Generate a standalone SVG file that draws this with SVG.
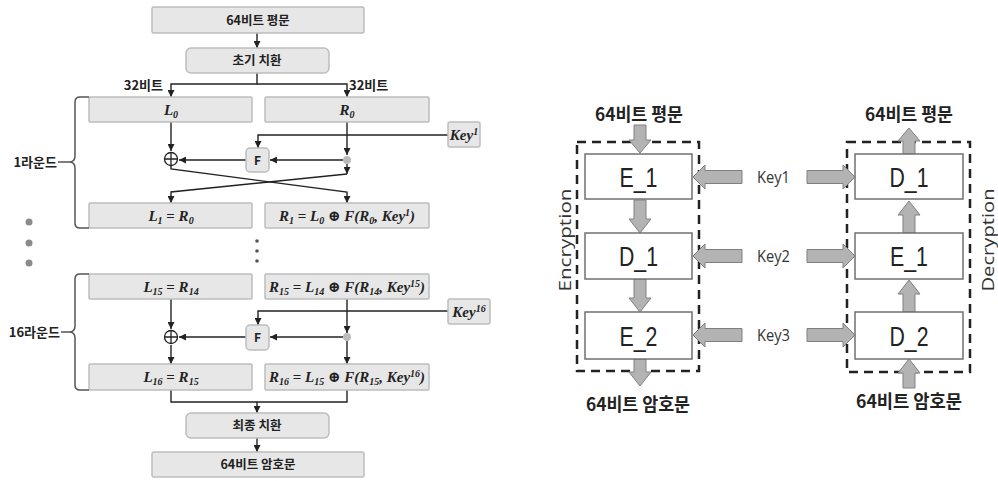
<svg xmlns="http://www.w3.org/2000/svg" width="998" height="481" viewBox="0 0 998 481">
<defs>
<style>
.bx{fill:#e7e7e7;stroke:#bdbdbd;stroke-width:1.5}
.kr{font-family:"Noto Sans CJK KR","Noto Sans",sans-serif;font-weight:bold;fill:#222}
.m{font-family:"Liberation Serif","DejaVu Serif",serif;font-weight:bold;font-style:italic;font-size:15px;fill:#222}
.up{font-style:normal}
.sb{font-size:10px}
.ln{fill:none;stroke:#222;stroke-width:1.4}
.br{fill:none;stroke:#555;stroke-width:1.5}
.wb{fill:#fff;stroke:#707070;stroke-width:1.5}
.ds{fill:none;stroke:#222;stroke-width:2.5;stroke-dasharray:9 6}
.ga{fill:#b3b3b3;stroke:#808080;stroke-width:1}
.big{font-family:"Liberation Sans",Arial,sans-serif;font-size:28px;fill:#222}
.ky{font-family:"Open Sans","DejaVu Sans",sans-serif;font-size:17px;fill:#333}
.t2{font-family:"Noto Sans CJK KR","Noto Sans",sans-serif;font-weight:bold;font-size:18px;fill:#222}
</style>
<marker id="ah" viewBox="0 0 8 8" refX="8" refY="4" markerWidth="7" markerHeight="7" markerUnits="userSpaceOnUse" orient="auto"><path d="M0,0 L8,4 L0,8 z" fill="#222"/></marker>
</defs>
<rect width="998" height="481" fill="#fff"/>

<!-- LEFT: DES structure -->
<g id="connectors-left">
<path class="ln" d="M257,33 V48" marker-end="url(#ah)"/>
<path class="ln" d="M257,73 V84 H171 V97" marker-end="url(#ah)"/>
<path class="ln" d="M257,84 H347 V97" marker-end="url(#ah)"/>
<!-- round 1 -->
<path class="ln" d="M171,122 V151" marker-end="url(#ah)"/>
<path class="ln" d="M347,122 V155" marker-end="url(#ah)"/>
<path class="ln" d="M343,160 H270" marker-end="url(#ah)"/>
<path class="ln" d="M246,160 H179" marker-end="url(#ah)"/>
<path class="ln" d="M448,135 H258 V148" marker-end="url(#ah)"/>
<path class="ln" d="M347,164 V174" marker-end="url(#ah)"/>
<path class="ln" d="M347,174 L171,192 V203" marker-end="url(#ah)"/>
<path class="ln" d="M171,166 V169 L347,192 V203" marker-end="url(#ah)"/>
<!-- round 16 -->
<path class="ln" d="M171,299 V329" marker-end="url(#ah)"/>
<path class="ln" d="M171,345 V364" marker-end="url(#ah)"/>
<path class="ln" d="M347,299 V333" marker-end="url(#ah)"/>
<path class="ln" d="M347,341 V364" marker-end="url(#ah)"/>
<path class="ln" d="M343,337 H270" marker-end="url(#ah)"/>
<path class="ln" d="M246,337 H179" marker-end="url(#ah)"/>
<path class="ln" d="M448,311 H258 V325" marker-end="url(#ah)"/>
<!-- final -->
<path class="ln" d="M171,390 V402 H347 V390"/>
<path class="ln" d="M257,402 V413" marker-end="url(#ah)"/>
<path class="ln" d="M257,438 V452" marker-end="url(#ah)"/>
</g>

<g id="n-plain"><rect class="bx" x="152" y="7" width="212" height="26" rx="2"/><text class="kr" x="258" y="25" font-size="12.5" text-anchor="middle">64비트 평문</text></g>
<g id="n-ip"><rect class="bx" x="186" y="48" width="143" height="25" rx="5"/><text class="kr" x="257" y="65" font-size="12.5" text-anchor="middle">초기 치환</text></g>
<g id="lbl-32"><text class="kr" x="163" y="90" font-size="13" text-anchor="end">32비트</text><text class="kr" x="349" y="90" font-size="13">32비트</text></g>

<g id="n-L0"><rect class="bx" x="89" y="97" width="163" height="25" rx="1"/><text class="m" x="171" y="115" text-anchor="middle">L<tspan class="sb" dy="3">0</tspan></text></g>
<g id="n-R0"><rect class="bx" x="265" y="97" width="164" height="25" rx="1"/><text class="m" x="347" y="115" text-anchor="middle">R<tspan class="sb" dy="3">0</tspan></text></g>
<g id="n-key1"><rect class="bx" x="448" y="122" width="32" height="25" rx="2"/><text class="m" x="464" y="140" font-size="14" text-anchor="middle">Key<tspan class="sb" dy="-5">1</tspan></text></g>
<g id="n-F1"><rect class="bx" x="246" y="148" width="23" height="24" rx="4"/><text class="kr" x="257.5" y="165" font-size="12" text-anchor="middle">F</text></g>
<g id="n-xor1"><circle cx="171" cy="159" r="6.5" fill="#fff" stroke="#222" stroke-width="1.3"/><path d="M164.5,159 H177.5 M171,152.5 V165.5" stroke="#222" stroke-width="1.3"/></g>
<g id="n-split1"><circle cx="347" cy="160" r="4" fill="#bbb"/></g>
<g id="n-L1"><rect class="bx" x="89" y="203" width="163" height="25" rx="1"/><text class="m" x="171" y="221" text-anchor="middle">L<tspan class="sb" dy="3">1</tspan><tspan class="up" dy="-3"> = </tspan>R<tspan class="sb" dy="3">0</tspan></text></g>
<g id="n-R1"><rect class="bx" x="265" y="203" width="164" height="25" rx="1"/><text class="m" x="347" y="221" text-anchor="middle">R<tspan class="sb" dy="3">1</tspan><tspan class="up" dy="-3"> = </tspan>L<tspan class="sb" dy="3">0</tspan><tspan class="up" dy="-3"> ⊕ </tspan>F(R<tspan class="sb" dy="3">0</tspan><tspan dy="-3">, Key</tspan><tspan class="sb" dy="-5">1</tspan><tspan dy="5">)</tspan></text></g>
<g id="brace1"><path class="br" d="M89,97 H80 Q75,97 75,102 V156 Q75,162 69,162 Q75,162 75,168 V223 Q75,228 80,228 H89 M58,162 H69"/><text class="kr" x="57" y="167" font-size="13" text-anchor="end">1라운드</text></g>

<g id="dots"><circle cx="29" cy="222" r="3.5" fill="#8a8a8a"/><circle cx="29" cy="243" r="3.5" fill="#8a8a8a"/><circle cx="29" cy="263" r="3.5" fill="#8a8a8a"/><circle cx="257" cy="241" r="1.8" fill="#555"/><circle cx="257" cy="251" r="1.8" fill="#555"/><circle cx="257" cy="261" r="1.8" fill="#555"/></g>

<g id="n-L15"><rect class="bx" x="89" y="274" width="163" height="25" rx="1"/><text class="m" x="171" y="292" text-anchor="middle">L<tspan class="sb" dy="3">15</tspan><tspan class="up" dy="-3"> = </tspan>R<tspan class="sb" dy="3">14</tspan></text></g>
<g id="n-R15"><rect class="bx" x="265" y="274" width="164" height="25" rx="1"/><text class="m" x="347" y="292" font-size="14" text-anchor="middle">R<tspan class="sb" dy="3">15</tspan><tspan class="up" dy="-3"> = </tspan>L<tspan class="sb" dy="3">14</tspan><tspan class="up" dy="-3"> ⊕ </tspan>F(R<tspan class="sb" dy="3">14</tspan><tspan dy="-3">, Key</tspan><tspan class="sb" dy="-5">15</tspan><tspan dy="5">)</tspan></text></g>
<g id="n-key16"><rect class="bx" x="448" y="299" width="42" height="25" rx="2"/><text class="m" x="469" y="317" font-size="14" text-anchor="middle">Key<tspan class="sb" dy="-5">16</tspan></text></g>
<g id="n-F16"><rect class="bx" x="246" y="325" width="23" height="25" rx="4"/><text class="kr" x="257.5" y="342" font-size="12" text-anchor="middle">F</text></g>
<g id="n-xor16"><circle cx="171" cy="337" r="6.5" fill="#fff" stroke="#222" stroke-width="1.3"/><path d="M164.5,337 H177.5 M171,330.5 V343.5" stroke="#222" stroke-width="1.3"/></g>
<g id="n-split16"><circle cx="347" cy="337" r="4" fill="#bbb"/></g>
<g id="n-L16"><rect class="bx" x="89" y="364" width="163" height="26" rx="1"/><text class="m" x="171" y="382" text-anchor="middle">L<tspan class="sb" dy="3">16</tspan><tspan class="up" dy="-3"> = </tspan>R<tspan class="sb" dy="3">15</tspan></text></g>
<g id="n-R16"><rect class="bx" x="265" y="364" width="164" height="26" rx="1"/><text class="m" x="347" y="382" font-size="14" text-anchor="middle">R<tspan class="sb" dy="3">16</tspan><tspan class="up" dy="-3"> = </tspan>L<tspan class="sb" dy="3">15</tspan><tspan class="up" dy="-3"> ⊕ </tspan>F(R<tspan class="sb" dy="3">15</tspan><tspan dy="-3">, Key</tspan><tspan class="sb" dy="-5">16</tspan><tspan dy="5">)</tspan></text></g>
<g id="brace16"><path class="br" d="M89,274 H80 Q75,274 75,279 V326 Q75,332 69,332 Q75,332 75,338 V385 Q75,390 80,390 H89 M61,332 H69"/><text class="kr" x="60" y="337" font-size="13" text-anchor="end">16라운드</text></g>

<g id="n-fp"><rect class="bx" x="186" y="413" width="143" height="25" rx="5"/><text class="kr" x="257" y="430" font-size="12.5" text-anchor="middle">최종 치환</text></g>
<g id="n-cipher"><rect class="bx" x="152" y="452" width="212" height="25" rx="2"/><text class="kr" x="258" y="469" font-size="12.5" text-anchor="middle">64비트 암호문</text></g>

<!-- RIGHT: 3DES -->
<g id="enc-group"><rect class="ds" x="577" y="142" width="122" height="229"/><text class="ky" transform="translate(571,240) rotate(-90)" text-anchor="middle" textLength="103" lengthAdjust="spacingAndGlyphs">Encryption</text></g>
<g id="dec-group"><rect class="ds" x="847" y="142" width="123" height="230"/><text class="ky" transform="translate(994,240) rotate(-90)" text-anchor="middle" textLength="103" lengthAdjust="spacingAndGlyphs">Decryption</text></g>

<g id="connectors-right">
<polygon class="ga" points="634,125 646,125 646,140 651,140 640,153 629,140 634,140"/>
<polygon class="ga" points="634,200 646,200 646,219 651,219 640,233 629,219 634,219"/>
<polygon class="ga" points="634,279 646,279 646,298 651,298 640,312 629,298 634,298"/>
<polygon class="ga" points="634,359 646,359 646,372 651,372 640,386 629,372 634,372"/>
<polygon class="ga" points="903,154 915,154 915,141 920,141 909,128 898,141 903,141"/>
<polygon class="ga" points="903,233 915,233 915,215 920,215 909,201 898,215 903,215"/>
<polygon class="ga" points="903,312 915,312 915,294 920,294 909,280 898,294 903,294"/>
<polygon class="ga" points="903,388 915,388 915,373 920,373 909,359 898,373 903,373"/>
<polygon class="ga" points="742,170.5 742,183.5 705,183.5 705,189 693,177 705,165 705,170.5"/>
<polygon class="ga" points="742,249.5 742,262.5 705,262.5 705,268 693,256 705,244 705,249.5"/>
<polygon class="ga" points="742,328.5 742,341.5 705,341.5 705,347 693,335 705,323 705,328.5"/>
<polygon class="ga" points="807,170.5 807,183.5 843,183.5 843,189 855,177 843,165 843,170.5"/>
<polygon class="ga" points="807,249.5 807,262.5 843,262.5 843,268 855,256 843,244 843,249.5"/>
<polygon class="ga" points="807,328.5 807,341.5 843,341.5 843,347 855,335 843,323 843,328.5"/>
</g>

<g id="t-plain-l"><text class="t2" x="639" y="121" text-anchor="middle" textLength="88" lengthAdjust="spacingAndGlyphs">64비트 평문</text></g>
<g id="t-cipher-l"><text class="t2" x="638" y="411" text-anchor="middle" textLength="104" lengthAdjust="spacingAndGlyphs">64비트 암호문</text></g>
<g id="t-plain-r"><text class="t2" x="909" y="121" text-anchor="middle" textLength="88" lengthAdjust="spacingAndGlyphs">64비트 평문</text></g>
<g id="t-cipher-r"><text class="t2" x="909" y="408" text-anchor="middle" textLength="106" lengthAdjust="spacingAndGlyphs">64비트 암호문</text></g>

<g id="n-E1"><rect class="wb" x="585" y="154" width="107" height="45"/><text class="big" x="638.5" y="187" text-anchor="middle" textLength="38" lengthAdjust="spacingAndGlyphs">E_1</text></g>
<g id="n-D1"><rect class="wb" x="585" y="233" width="107" height="46"/><text class="big" x="638.5" y="266" text-anchor="middle" textLength="39" lengthAdjust="spacingAndGlyphs">D_1</text></g>
<g id="n-E2"><rect class="wb" x="585" y="312" width="107" height="47"/><text class="big" x="638.5" y="346" text-anchor="middle" textLength="38" lengthAdjust="spacingAndGlyphs">E_2</text></g>
<g id="n-D1r"><rect class="wb" x="855" y="154" width="108" height="45"/><text class="big" x="909" y="187" text-anchor="middle" textLength="39" lengthAdjust="spacingAndGlyphs">D_1</text></g>
<g id="n-E1r"><rect class="wb" x="855" y="233" width="108" height="46"/><text class="big" x="909" y="266" text-anchor="middle" textLength="38" lengthAdjust="spacingAndGlyphs">E_1</text></g>
<g id="n-D2r"><rect class="wb" x="855" y="312" width="108" height="47"/><text class="big" x="909" y="346" text-anchor="middle" textLength="39" lengthAdjust="spacingAndGlyphs">D_2</text></g>

<g id="keys"><text class="ky" x="773.5" y="183" text-anchor="middle" textLength="33" lengthAdjust="spacingAndGlyphs">Key1</text><text class="ky" x="773.5" y="262" text-anchor="middle" textLength="33" lengthAdjust="spacingAndGlyphs">Key2</text><text class="ky" x="773.5" y="341" text-anchor="middle" textLength="33" lengthAdjust="spacingAndGlyphs">Key3</text></g>
</svg>
